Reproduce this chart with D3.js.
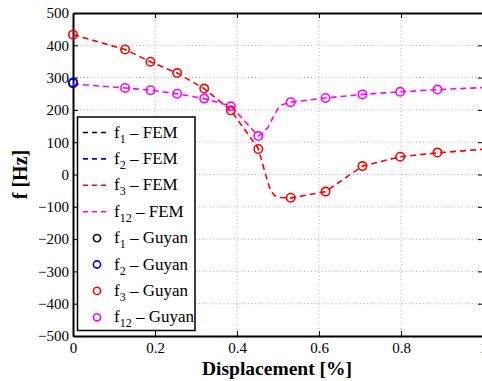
<!DOCTYPE html>
<html>
<head>
<meta charset="utf-8">
<script src="https://cdn.jsdelivr.net/npm/d3@7"></script>
<style>
  html, body { margin: 0; padding: 0; background: #fff; }
  svg { display: block; }
</style>
</head>
<body>
<svg id="chart" width="482" height="381"></svg>
<script>
// FEM curves (dense) and Guyan reduction samples (markers)
const femX3  = [0, 0.127, 0.189, 0.254, 0.32, 0.385, 0.452, 0.462, 0.472, 0.482, 0.492, 0.505, 0.531, 0.616, 0.706, 0.798, 0.889, 1.0];
const femF3  = [433, 387, 349, 314, 266, 199, 80, 35, -10, -50, -66, -71, -73, -53, 26, 55, 67, 78];
const femX12 = [0, 0.127, 0.189, 0.254, 0.32, 0.385, 0.452, 0.465, 0.476, 0.493, 0.505, 0.531, 0.616, 0.706, 0.798, 0.889, 1.0];
const femF12 = [280, 268, 261, 250, 235, 212, 119, 130, 147, 189, 214, 224, 237, 248, 256, 263, 269];
const femX1  = [0];
const femF1  = [283];
const femX2  = [0];
const femF2  = [285];

const guyX1  = [0];
const guyF1  = [283];
const guyX2  = [0];
const guyF2  = [285];
const guyX3  = [0, 0.127, 0.189, 0.254, 0.32, 0.385, 0.452, 0.531, 0.616, 0.706, 0.798, 0.889];
const guyF3  = [433, 387, 349, 314, 266, 198, 79, -72, -53, 26, 55, 68];
const guyX12 = [0.127, 0.189, 0.254, 0.32, 0.385, 0.452, 0.531, 0.616, 0.706, 0.798, 0.889];
const guyF12 = [268, 261, 250, 235, 211, 119, 224, 237, 248, 256, 263];

const xTicks = [0, 0.2, 0.4, 0.6, 0.8, 1];
const yTicks = [-500, -400, -300, -200, -100, 0, 100, 200, 300, 400, 500];

const seriesNames = ["f1", "f2", "f3", "f12"];
const colors = ["#000000", "#0000ff", "#ff0000", "#ff00ff"];

const SERIF = "Liberation Serif";

const svg = d3.select("#chart");
const L = 73, R = 483, T = 13, B = 336;

const x = d3.scaleLinear().domain([0, 1]).range([L, R]);
const y = d3.scaleLinear().domain([-500, 500]).range([B, T]);

// dotted grid
const grid = svg.append("g");
grid.selectAll("line.gx").data(xTicks.slice(1, -1)).join("line")
  .attr("x1", d => x(d)).attr("x2", d => x(d)).attr("y1", T).attr("y2", B)
  .attr("stroke", "#999").attr("stroke-width", 0.8).attr("stroke-dasharray", "1,2.5");
grid.selectAll("line.gy").data(yTicks.slice(1, -1)).join("line")
  .attr("x1", L).attr("x2", R).attr("y1", d => y(d)).attr("y2", d => y(d))
  .attr("stroke", "#999").attr("stroke-width", 0.8).attr("stroke-dasharray", "1,2.5");

// axes with inward ticks
const fmtX = d => d === 0 ? "0" : d3.format(".1f")(d).replace(/\.0$/, "");
const fmtY = d => (d < 0 ? "\u2212" + Math.abs(d) : String(d));

const axB = svg.append("g").attr("transform", `translate(0,${B})`)
  .call(d3.axisBottom(x).tickValues(xTicks).tickFormat(fmtX).tickSizeInner(-5).tickSizeOuter(0).tickPadding(6));
const axT = svg.append("g").attr("transform", `translate(0,${T})`)
  .call(d3.axisTop(x).tickValues(xTicks).tickFormat("").tickSizeInner(-5).tickSizeOuter(0));
const axL = svg.append("g").attr("transform", `translate(${L},0)`)
  .call(d3.axisLeft(y).tickValues(yTicks).tickFormat(fmtY).tickSizeInner(-5).tickSizeOuter(0).tickPadding(4));
const axR = svg.append("g").attr("transform", `translate(${R},0)`)
  .call(d3.axisRight(y).tickValues(yTicks).tickFormat("").tickSizeInner(-5).tickSizeOuter(0));

[axB, axT, axL, axR].forEach(a => {
  a.attr("font-family", SERIF).attr("font-size", 15);
  a.select(".domain").attr("stroke", "#000").attr("stroke-width", 2);
  a.selectAll(".tick line").attr("stroke", "#000").attr("stroke-width", 1);
  a.selectAll("text").attr("fill", "#000");
});

// FEM dashed curves
const femData = [
  d3.zip(femX1, femF1), d3.zip(femX2, femF2), d3.zip(femX3, femF3), d3.zip(femX12, femF12)
];
const line = d3.line().x(d => x(d[0])).y(d => y(d[1]));
const plot = svg.append("g");
femData.forEach((pts, i) => {
  plot.append("path").datum(pts).attr("d", line)
    .attr("fill", "none").attr("stroke", colors[i]).attr("stroke-width", 1.6)
    .attr("stroke-dasharray", "6,4");
});

// Guyan markers
const guyData = [
  d3.zip(guyX1, guyF1), d3.zip(guyX2, guyF2), d3.zip(guyX3, guyF3), d3.zip(guyX12, guyF12)
];
guyData.forEach((pts, i) => {
  plot.selectAll(null).data(pts).join("circle")
    .attr("cx", d => x(d[0])).attr("cy", d => y(d[1])).attr("r", 4.2)
    .attr("fill", "none").attr("stroke", colors[i]).attr("stroke-width", 1.6);
});

// axis titles
svg.append("text").attr("x", 277).attr("y", 375).attr("text-anchor", "middle")
  .attr("font-family", SERIF).attr("font-size", 19.5).attr("font-weight", "bold").text("Displacement [%]");
svg.append("text").attr("transform", `translate(27,${(T + B) / 2}) rotate(-90)`).attr("text-anchor", "middle")
  .attr("font-family", SERIF).attr("font-size", 20).attr("font-weight", "bold").text("f [Hz]");

// legend
const lg = svg.append("g");
lg.append("rect").attr("x", 77.5).attr("y", 117).attr("width", 117.5).attr("height", 213.5)
  .attr("fill", "#fff").attr("stroke", "#000").attr("stroke-width", 1.5);
const rowY0 = 132.5, rowDy = 26.4;
const entries = [];
seriesNames.forEach((n, i) => entries.push({ sub: n.slice(1), kind: "FEM", c: colors[i] }));
seriesNames.forEach((n, i) => entries.push({ sub: n.slice(1), kind: "Guyan", c: colors[i] }));
entries.forEach((e, i) => {
  const cy = rowY0 + i * rowDy;
  if (e.kind === "FEM") {
    lg.append("line").attr("x1", 83).attr("x2", 110).attr("y1", cy).attr("y2", cy)
      .attr("stroke", e.c).attr("stroke-width", 1.6).attr("stroke-dasharray", "5,4");
  } else {
    lg.append("circle").attr("cx", 97).attr("cy", cy).attr("r", 3.6)
      .attr("fill", "none").attr("stroke", e.c).attr("stroke-width", 1.6);
  }
  const t = lg.append("text").attr("x", 114).attr("y", cy + 5)
    .attr("font-family", SERIF).attr("font-size", 17).attr("fill", "#000");
  t.append("tspan").text("f");
  t.append("tspan").attr("font-size", 12).attr("dy", 5).text(e.sub);
  t.append("tspan").attr("dy", -5).text(" \u2013 " + e.kind);
});
</script>
</body>
</html>
